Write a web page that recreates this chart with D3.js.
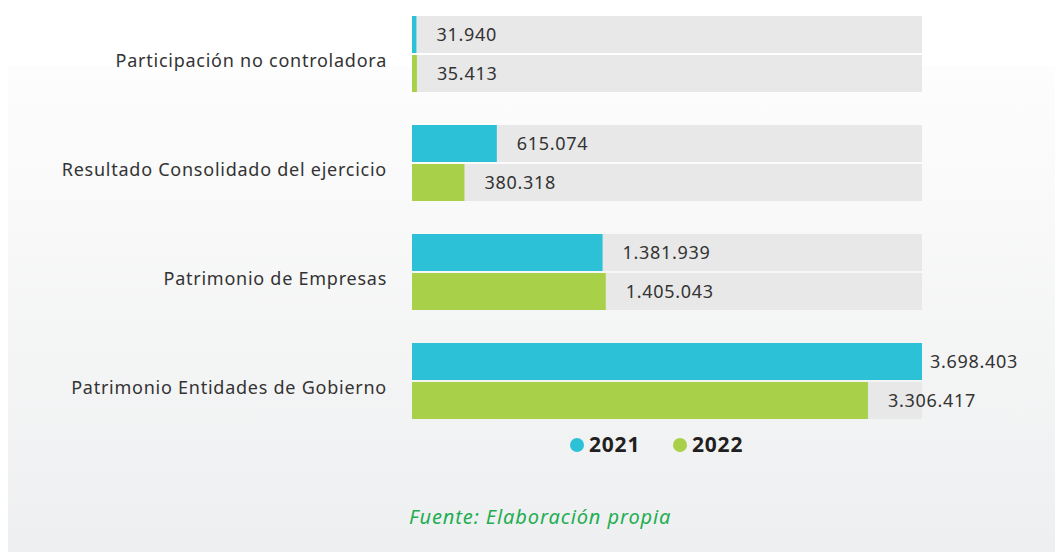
<!DOCTYPE html>
<html><head><meta charset="utf-8">
<script src="https://cdn.jsdelivr.net/npm/d3@7/dist/d3.min.js"></script>
<style>html,body{margin:0;padding:0;background:#fff;}svg{display:block;}</style>
</head><body><svg id="c" width="1055" height="552"></svg>
<script>
const categories = ["Participación no controladora","Resultado Consolidado del ejercicio","Patrimonio de Empresas","Patrimonio Entidades de Gobierno"];
const series = ["2021","2022"];
const values2021 = [31940, 615074, 1381939, 3698403];
const values2022 = [35413, 380318, 1405043, 3306417];
const colors = ["#2cc1d6","#a8d048"];
const source = "Fuente: Elaboración propia";

const svg = d3.select("#c");
const defs = svg.append("defs");
const g = defs.append("linearGradient").attr("id","bg").attr("x1",0).attr("y1",0).attr("x2",0).attr("y2",1);
g.append("stop").attr("offset","0%").attr("stop-color","#fdfdfd");
g.append("stop").attr("offset","100%").attr("stop-color","#eeeff0");
svg.append("rect").attr("x",8).attr("y",66).attr("width",1047).attr("height",486).attr("fill","url(#bg)");

const font = "'Noto Sans', sans-serif";
const x0 = 412, x1 = 922;
const maxV = d3.max(values2021.concat(values2022));
const x = d3.scaleLinear().domain([0, maxV]).range([x0, x1]);
const yGroup = d3.scaleBand().domain(categories).range([16, 16 + 109*4]).padding(0);
const barH = 37, gap = 2;
const data = [values2021, values2022];

categories.forEach((c, i) => {
  const gy = yGroup(c);
  series.forEach((s, j) => {
    const v = data[j][i];
    const by = gy + j*(barH+gap);
    svg.append("rect").attr("x", x0).attr("y", by).attr("width", x1-x0).attr("height", barH).attr("fill","#e8e8e8");
    svg.append("rect").attr("x", x0).attr("y", by).attr("width", x(v)-x0).attr("height", barH).attr("fill", colors[j]);
    const off = x(v) >= x1 - 1 ? 8 : 20;
    svg.append("text").attr("x", x(v)+off).attr("y", by + barH/2).attr("dy","0.35em")
      .attr("font-family", font).attr("font-size", 18).attr("letter-spacing", 0.7).attr("fill","#333333")
      .text(d3.format(",")(v).replace(/,/g,"."));
  });
  svg.append("text").attr("x", 387).attr("y", gy + barH + gap/2 + 7).attr("dy","0.35em")
    .attr("text-anchor","end").attr("font-family", font).attr("font-size", 18).attr("letter-spacing", 0.75)
    .attr("fill","#333333").text(c);
});

// legend
const leg = [{x:577},{x:680}];
series.forEach((s, j) => {
  svg.append("circle").attr("cx", leg[j].x).attr("cy", 445).attr("r", 7).attr("fill", colors[j]);
  svg.append("text").attr("x", leg[j].x + 12).attr("y", 445).attr("dy","0.35em")
    .attr("font-family", font).attr("font-weight","bold").attr("font-size", 21).attr("letter-spacing", 0.8)
    .attr("fill","#231f20").text(s);
});

svg.append("text").attr("x", 409).attr("y", 517).attr("dy","0.35em").attr("font-family", font)
  .attr("font-style","italic").attr("font-size", 20).attr("letter-spacing", 0.9).attr("fill","#1fae52").text(source);
</script></body></html>
